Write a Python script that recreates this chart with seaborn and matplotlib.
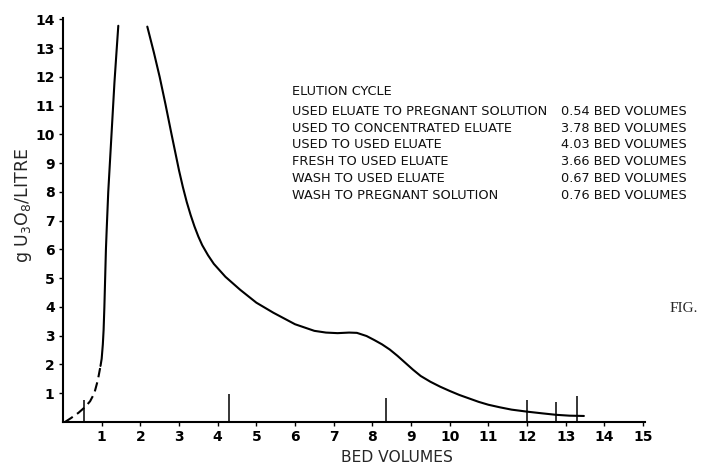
import matplotlib
matplotlib.use("Agg")
import matplotlib.pyplot as plt
import seaborn as sns

# ---- data ----
rise_dashed_x = [0.05, 0.2, 0.4, 0.57, 0.7, 0.81, 0.9, 0.97]
rise_dashed_y = [0.0, 0.13, 0.32, 0.52, 0.72, 1.0, 1.45, 1.95]
rise_solid_x = [0.97, 1.0, 1.03, 1.05, 1.07, 1.09, 1.11, 1.13, 1.17, 1.25, 1.33, 1.38, 1.43]
rise_solid_y = [1.95, 2.2, 2.7, 3.2, 4.0, 5.0, 6.0, 6.7, 8.0, 9.9, 11.8, 12.8, 13.78]
fall_x = [2.18, 2.35, 2.5, 2.65, 2.8, 2.9, 3.0, 3.1, 3.2, 3.3, 3.4, 3.5, 3.6, 3.75,
          3.9, 4.2, 4.58, 5.0, 5.44, 6.0, 6.5, 6.8, 7.1, 7.4, 7.6, 7.85, 8.05,
          8.25, 8.45, 8.65, 8.85, 9.05, 9.25, 9.5, 9.75, 10.0, 10.25, 10.5, 10.75,
          11.0, 11.3, 11.6, 12.0, 12.4, 12.75, 13.1, 13.47]
fall_y = [13.75, 12.85, 12.0, 11.05, 10.05, 9.4, 8.75, 8.17, 7.65, 7.2, 6.8, 6.45,
          6.15, 5.8, 5.5, 5.05, 4.6, 4.15, 3.8, 3.4, 3.17, 3.11, 3.09, 3.11, 3.1,
          2.99, 2.85, 2.7, 2.52, 2.3, 2.06, 1.82, 1.6, 1.4, 1.23, 1.08, 0.94, 0.82,
          0.7, 0.6, 0.51, 0.43, 0.36, 0.3, 0.25, 0.22, 0.21]
cycle_marks_x = [0.55, 4.3, 8.35, 12.0, 12.75, 13.3]
cycle_marks_h = [0.77, 0.98, 0.83, 0.77, 0.71, 0.92]

legend_title = "ELUTION CYCLE"
legend_labels = ["USED ELUATE TO PREGNANT SOLUTION", "USED TO CONCENTRATED ELUATE",
                 "USED TO USED ELUATE", "FRESH TO USED ELUATE",
                 "WASH TO USED ELUATE", "WASH TO PREGNANT SOLUTION"]
legend_values = ["0.54 BED VOLUMES", "3.78 BED VOLUMES", "4.03 BED VOLUMES",
                 "3.66 BED VOLUMES", "0.67 BED VOLUMES", "0.76 BED VOLUMES"]
x_ticks = list(range(1, 16))
y_ticks = list(range(1, 15))

sns.set_style("ticks")
plt.rcParams['font.family'] = ['DejaVu Sans']

W, H = 703, 468
fig = plt.figure(figsize=(W / 100, H / 100), dpi=100)
ax = fig.add_axes([63 / W, 1 - 422 / H, (645 - 63) / W, (422 - 18) / H])

lw = 1.5
sns.lineplot(x=rise_dashed_x, y=rise_dashed_y, ax=ax, color="black", lw=lw,
             linestyle=(0, (4.5, 2.5)), sort=False, estimator=None)
sns.lineplot(x=rise_solid_x, y=rise_solid_y, ax=ax, color="black", lw=lw,
             sort=False, estimator=None)
sns.lineplot(x=fall_x, y=fall_y, ax=ax, color="black", lw=lw,
             sort=False, estimator=None)
ax.vlines(cycle_marks_x, 0, cycle_marks_h, color="black", lw=1.1)

ax.set_xlim(0, 15.05)
ax.set_ylim(0, 14.05)
ax.set_xticks(x_ticks)
ax.set_yticks(y_ticks)
tick_font = dict(family="DejaVu Sans", weight="bold", size=10)
ax.set_xticklabels([str(t) for t in x_ticks], fontdict=tick_font)
ax.set_yticklabels([str(t) for t in y_ticks], fontdict=tick_font)
ax.tick_params(axis="both", direction="out", length=3, width=1, color="black",
               labelcolor="black", pad=3)
for s in ["top", "right"]:
    ax.spines[s].set_visible(False)
for s in ["left", "bottom"]:
    ax.spines[s].set_linewidth(1.5)
    ax.spines[s].set_color("black")
ax.set_xlabel("")
ax.set_ylabel("")

fig.text(397 / W, 1 - 458 / H, "BED VOLUMES", ha="center", va="center",
         family="DejaVu Sans", size=11.2)
fig.text(24 / W, 1 - 206 / H, r"g U$_3$O$_8$/LITRE", ha="center", va="center",
         rotation=90, family="DejaVu Sans", size=12.5)

leg_font = dict(family="DejaVu Sans", size=9.3, color="#111111")
fig.text(292 / W, 1 - 91.7 / H, legend_title, ha="left", va="center", **leg_font)
row_y = [111.7, 128.3, 145.0, 161.7, 178.3, 195.0]
for yy, lab, val in zip(row_y, legend_labels, legend_values):
    fig.text(292 / W, 1 - yy / H, lab, ha="left", va="center", **leg_font)
    fig.text(561 / W, 1 - yy / H, val, ha="left", va="center", **leg_font)

fig.text(684 / W, 1 - 309 / H, "FIG.", ha="center", va="center",
         family="Liberation Serif", size=11)

fig.savefig("out.png", dpi=100)
